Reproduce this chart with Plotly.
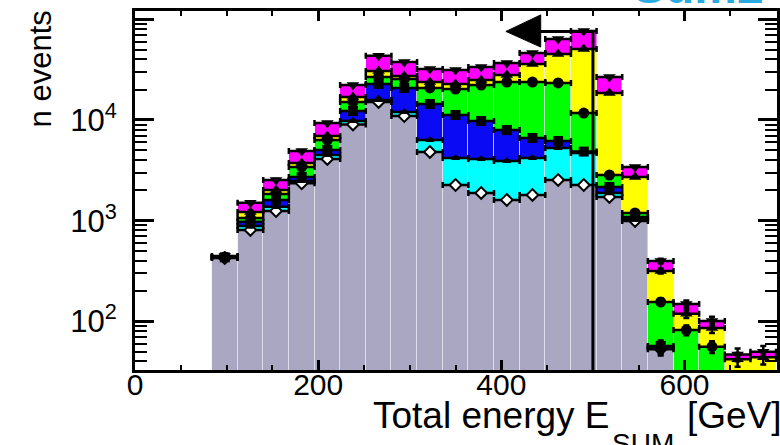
import numpy as np
import plotly.graph_objects as go

# Total-energy histogram, 28 GeV bins from 84 to 700 GeV
bin_width = 28
e_sum = [98, 126, 154, 182, 210, 238, 266, 294, 322, 350, 378, 406,
         434, 462, 490, 518, 546, 574, 602, 630, 658, 686]

# Event counts per bin for each stacked contribution (bottom to top)
counts_gray = [425, 809, 1247, 2351, 4100, 9020, 15100, 10950, 4810, 2260, 1885,
               1607, 1800, 2535, 2260, 1720, 993, 53, 0, 0, 0, 0]
counts_cyan = [3, 77, 130, 128, 390, 750, 700, 1050, 1510, 1930, 2205,
               2313, 2390, 2735, 2440, 165, 47, 2, 0, 0, 0, 0]
counts_blue = [4, 91, 229, 237, 540, 2530, 7000, 8800, 8080, 7010, 5680,
               4020, 2430, 910, 150, 275, 50, 2, 0, 0, 0, 0]
counts_green = [4, 85, 235, 699, 1290, 2800, 3900, 4700, 6400, 9100, 12430,
                15860, 17180, 17120, 6850, 680, 104, 99, 82, 56, 20, 20]
counts_yellow = [2, 157, 177, 326, 610, 1800, 4000, 1800, 3000, 2500, 2700,
                 4200, 12200, 21900, 39000, 15660, 1522, 160, 37, 30, 22, 24]
counts_magenta = [7, 288, 517, 1179, 2400, 5300, 12600, 10400, 8300, 8500, 8700,
                  8800, 10200, 18500, 25900, 8200, 699, 82, 30, 15, 5, 6]

# Selection cut on E_SUM
cut_energy = 500

layers = [
    (counts_gray, "#aaa7c2", dict(symbol="diamond", size=9, color="white",
                                   line=dict(color="black", width=2))),
    (counts_cyan, "#00ffff", dict(symbol="triangle-up", size=8, color="black")),
    (counts_blue, "#0a0af5", dict(symbol="square", size=10, color="black")),
    (counts_green, "#00ff00", dict(symbol="circle", size=11, color="black")),
    (counts_yellow, "#ffff00", dict(symbol="triangle-up", size=11, color="black")),
    (counts_magenta, "#ff00ff", dict(symbol="triangle-down", size=11, color="black")),
]

fig = go.Figure()

x = np.array(e_sum, dtype=float)
for counts, color, _ in layers:
    fig.add_trace(go.Bar(
        x=x, y=counts, width=bin_width, marker_color=color,
        marker_line=dict(color="rgba(235,235,245,0.55)", width=1),
    ))

# Cumulative level markers with bin-width and statistical error bars
cumulative = np.zeros(len(e_sum))
for counts, color, marker in layers:
    cumulative = cumulative + np.array(counts, dtype=float)
    yv = np.where(cumulative > 0, cumulative, np.nan)
    fig.add_trace(go.Scatter(
        x=x, y=yv, mode="markers", marker=marker,
        error_x=dict(type="constant", value=bin_width / 2, color="black",
                     thickness=2.5, width=3),
        error_y=dict(type="data", array=np.sqrt(np.nan_to_num(yv)), color="black",
                     thickness=2.5, width=3),
        cliponaxis=True,
    ))

# Cut line with an arrow pointing to the accepted side
arrow_level = 75700
fig.add_trace(go.Scatter(
    x=[cut_energy - 57, cut_energy, cut_energy],
    y=[arrow_level, arrow_level, 1],
    mode="lines", line=dict(color="black", width=3),
))
fig.add_trace(go.Scatter(
    x=[cut_energy - 95, cut_energy - 57, cut_energy - 57, cut_energy - 95],
    y=[arrow_level, arrow_level * 1.46, arrow_level / 1.43, arrow_level],
    mode="lines", fill="toself", fillcolor="black", line=dict(color="black", width=1),
))

font_family = "Liberation Sans, Arial, Helvetica, sans-serif"

fig.update_layout(
    width=780, height=445,
    margin=dict(l=135, r=0, t=11, b=75),
    plot_bgcolor="white", paper_bgcolor="white",
    barmode="stack", bargap=0, showlegend=False,
    font=dict(family=font_family, color="black"),
)

fig.update_xaxes(
    range=[0, 701], tickvals=[0, 200, 400, 600], ticktext=["0", "200", "400", "600"],
    ticks="inside", ticklen=10, tickwidth=2.5, tickcolor="black",
    showline=True, linewidth=3, linecolor="black", mirror="allticks",
    showgrid=False, zeroline=False, tickfont=dict(size=30),
    ticklabelstandoff=-14,
    minor=dict(tickvals=[50, 100, 150, 250, 300, 350, 450, 500, 550, 650, 700],
               ticks="inside", ticklen=5, tickwidth=2, tickcolor="black"),
)

minor_y = [m * 10 ** d for d in range(1, 5) for m in range(2, 10)]
fig.update_yaxes(
    type="log", range=[1.517, 5.082],
    tickvals=[100, 1000, 10000, 100000],
    ticktext=["10<sup>2</sup>", "10<sup>3</sup>", "10<sup>4</sup>", "10<sup>5</sup>"],
    ticks="inside", ticklen=19, tickwidth=2.5, tickcolor="black",
    showline=True, linewidth=3, linecolor="black", mirror="allticks",
    showgrid=False, zeroline=False, tickfont=dict(size=31),
    ticklabelstandoff=9,
    minor=dict(tickvals=minor_y, ticks="inside", ticklen=12, tickwidth=2,
               tickcolor="black"),
)

fig.add_annotation(
    text="n events", textangle=-90, xref="paper", yref="paper",
    x=-0.1473, y=0.8384, xanchor="center", yanchor="middle",
    showarrow=False, font=dict(size=31),
)
# Axis title pieces: main text, lowered subscript, unit
fig.add_annotation(
    text="Total energy E", xref="paper", yref="paper",
    x=0.3674, y=-0.0627, xanchor="left", yanchor="top",
    showarrow=False, font=dict(size=37),
)
fig.add_annotation(
    text="SUM", xref="paper", yref="paper",
    x=0.7395, y=-0.155, xanchor="left", yanchor="top",
    showarrow=False, font=dict(size=28),
)
fig.add_annotation(
    text="[GeV]", xref="paper", yref="paper",
    x=0.857, y=-0.0627, xanchor="left", yanchor="top",
    showarrow=False, font=dict(size=37),
)
fig.add_annotation(
    text="<b>Sum2</b>", xref="paper", yref="paper",
    x=0.772, y=0.989, xanchor="left", yanchor="bottom",
    showarrow=False, font=dict(size=48, color="#29abe2"),
)

fig.write_html("out.html")
